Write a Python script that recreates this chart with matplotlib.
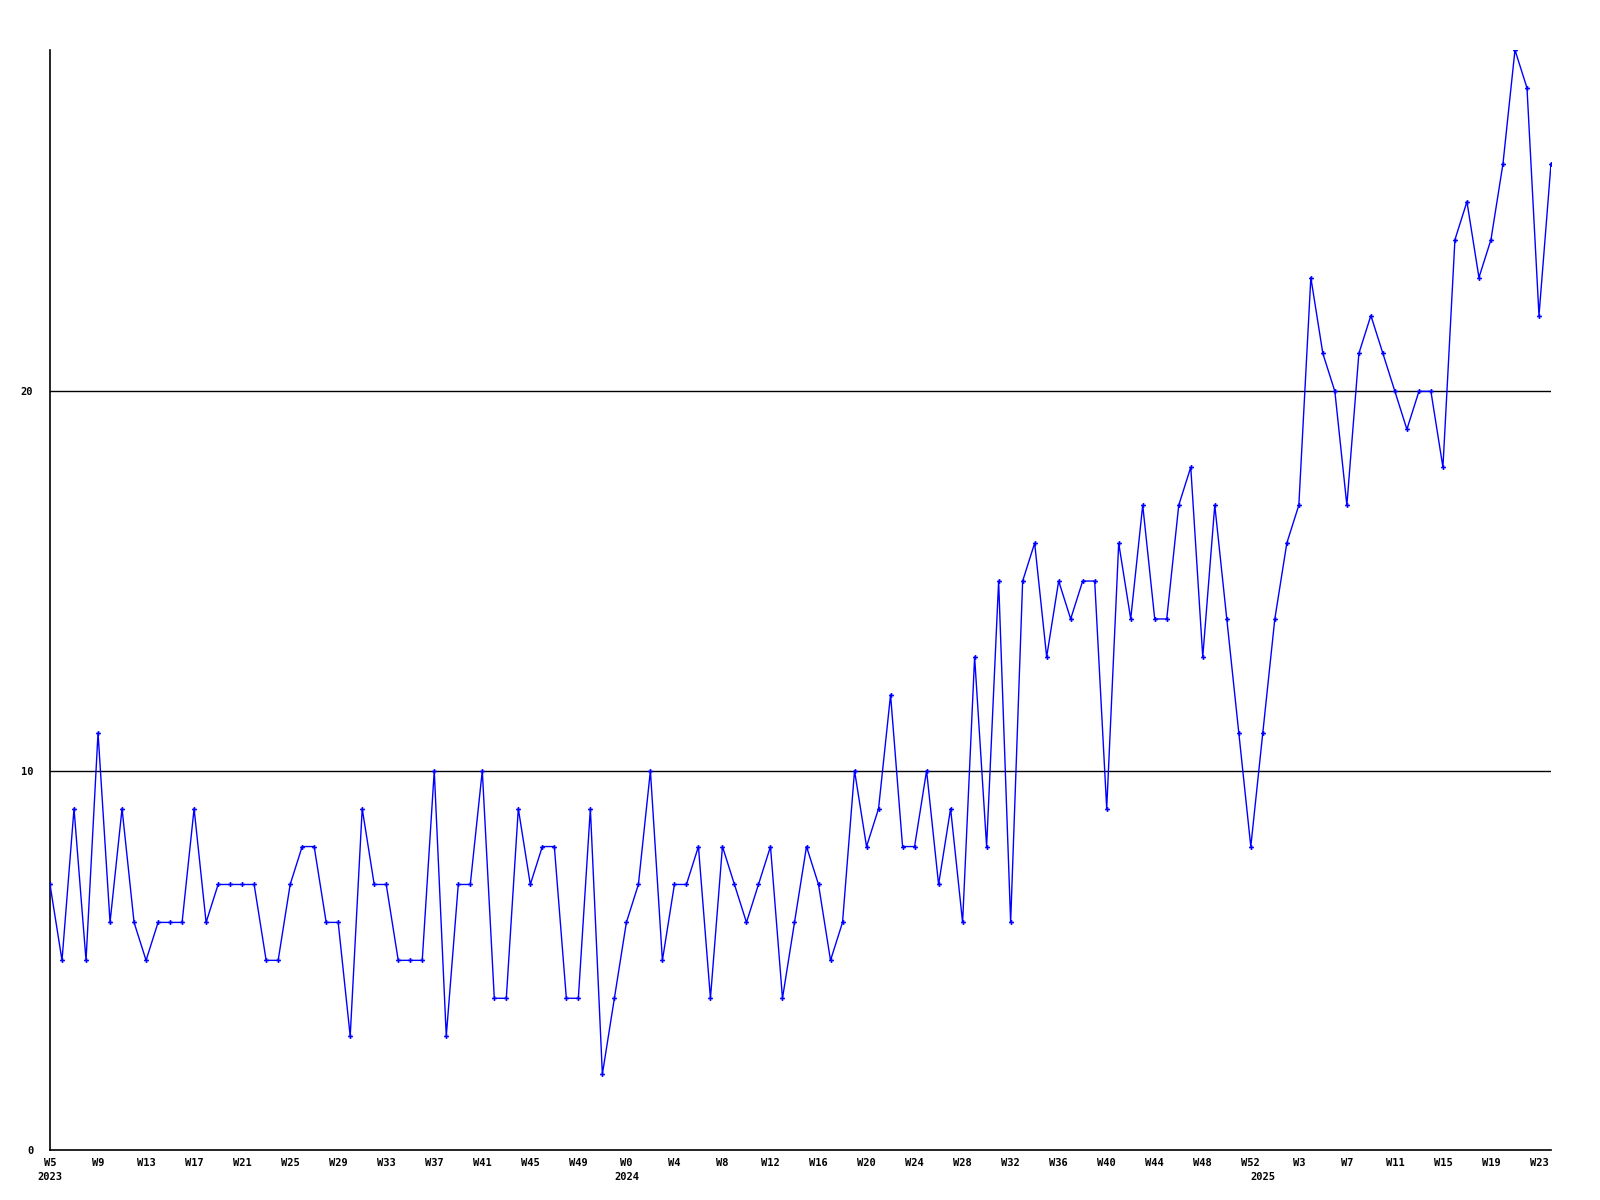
import matplotlib
matplotlib.use("Agg")
import matplotlib.pyplot as plt
from matplotlib.ticker import FixedLocator, FixedFormatter
import matplotlib.transforms as mtransforms

# ============================================================
# Data – weekly counts, 2023 W5 .. 2025 W24
# ============================================================
YEARS = [2023, 2024, 2025]
WEEKS_2023 = list(range(5, 53))   # W5..W52
WEEKS_2024 = list(range(0, 53))   # W0..W52
WEEKS_2025 = list(range(0, 25))   # W0..W24

VALUES = [
    7, 5, 9, 5, 11, 6, 9, 6, 5, 6, 6, 6, 9, 6, 7, 7, 7, 7, 5, 5,
    7, 8, 8, 6, 6, 3, 9, 7, 7, 5, 5, 5, 10, 3, 7, 7, 10, 4, 4, 9,
    7, 8, 8, 4, 4, 9, 2, 4, 6, 7, 10, 5, 7, 7, 8, 4, 8, 7, 6, 7,
    8, 4, 6, 8, 7, 5, 6, 10, 8, 9, 12, 8, 8, 10, 7, 9, 6, 13, 8, 15,
    6, 15, 16, 13, 15, 14, 15, 15, 9, 16, 14, 17, 14, 14, 17, 18, 13, 17, 14, 11,
    8, 11, 14, 16, 17, 23, 21, 20, 17, 21, 22, 21, 20, 19, 20, 20, 18, 24, 25, 23,
    24, 26, 29, 28, 22, 26,
]

week_labels = (["W%d" % w for w in WEEKS_2023]
               + ["W%d" % w for w in WEEKS_2024]
               + ["W%d" % w for w in WEEKS_2025])
year_starts = [0, len(WEEKS_2023), len(WEEKS_2023) + len(WEEKS_2024)]
x = list(range(len(VALUES)))

# ============================================================
# Plot
# ============================================================
font = {"family": "DejaVu Sans Mono", "weight": "bold", "size": 7.5}

fig = plt.figure(figsize=(16, 12), dpi=100)
ax = fig.add_axes([50 / 1600, 50 / 1200, 1501 / 1600, 1100 / 1200])

for yv in (10, 20):
    ax.axhline(yv, color="black", linewidth=1.0, zorder=1)

ax.plot(x, VALUES, color="#0000ff", linewidth=1.0, marker="P",
        markersize=3.5, markeredgewidth=0, zorder=3)

ax.set_xlim(0, len(VALUES) - 1)
ax.set_ylim(0, 29)

for side in ("top", "right"):
    ax.spines[side].set_visible(False)
ax.spines["left"].set_linewidth(1.2)
ax.spines["bottom"].set_linewidth(1.2)

# y-axis
ax.set_yticks([0, 10, 20])
ax.set_yticklabels(["0", "10", "20"], fontdict=font)
ax.tick_params(axis="y", length=0, pad=12)

# x-axis: week labels every 4 weeks
major = x[::4]
ax.xaxis.set_major_locator(FixedLocator(major))
ax.xaxis.set_major_formatter(FixedFormatter([week_labels[i] for i in major]))
ax.tick_params(axis="x", which="major", length=0, pad=6)
for lbl in ax.get_xticklabels():
    lbl.set_fontfamily(font["family"])
    lbl.set_fontweight(font["weight"])
    lbl.set_fontsize(font["size"])

# year labels under the first week of each year
trans = mtransforms.blended_transform_factory(ax.transData, ax.transAxes)
for xs, yr in zip(year_starts, YEARS):
    ax.text(xs, 0, str(yr), transform=trans, ha="center", va="top",
            fontdict=font,
            transform_rotates_text=False).set_transform(
        trans + mtransforms.ScaledTranslation(0, -22 / 100, fig.dpi_scale_trans))

fig.savefig("out.png", dpi=100)
